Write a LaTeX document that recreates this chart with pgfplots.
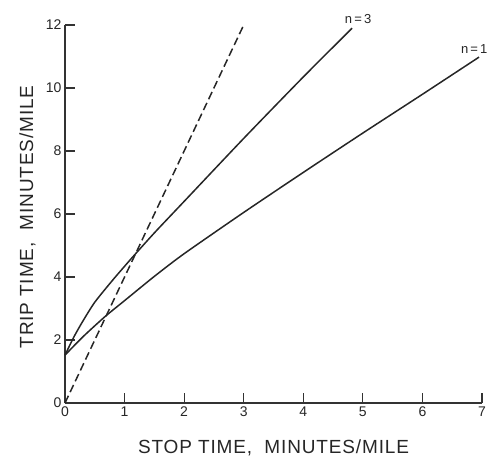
\documentclass[border=0pt]{standalone}
\usepackage{fontspec}
\setmainfont{Liberation Sans}
\newfontfamily\lblfont[LetterSpace=4.5]{Liberation Sans}
\usepackage{pgfplots}
\pgfplotsset{compat=1.18}

% trip time against stop time
\pgfplotstableread{
x     y
0     1.52
0.15  2.10
0.30  2.60
0.50  3.20
0.80  3.90
1.12  4.60
1.50  5.40
2.00  6.40
3.00  8.40
4.00  10.35
4.82  11.90
}\nthree
\pgfplotstableread{
x     y
0     1.52
0.30  2.10
0.67  2.74
1.00  3.25
1.50  4.02
2.00  4.74
3.00  6.05
4.00  7.32
5.00  8.57
6.00  9.80
6.95  10.98
}\none
\pgfplotstableread{
x  y
0  0
3  12
}\nstop

\begin{document}
\begin{tikzpicture}
\useasboundingbox (-65pt,-57pt) rectangle (427pt,403pt);
\begin{axis}[
  at={(0pt,0pt)}, anchor=south west,
  scale only axis, width=417pt, height=378pt,
  xmin=0, xmax=7, ymin=0, ymax=12,
  axis lines=left,
  axis line style={-, line width=1.5pt, black!80},
  xtick={0,1,...,7}, ytick={0,2,...,12},
  tick align=inside, major tick length=10pt,
  tick style={line width=1.2pt, black!80},
  tick label style={font=\fontsize{14}{14}\selectfont, text=black!85},
  /pgf/number format/assume math mode=true,
  xlabel={STOP TIME,\ \ MINUTES/MILE},
  ylabel={TRIP TIME,\ \ MINUTES/MILE},
  x label style={at={(axis description cs:0.5,-0.1349)}, anchor=base,
    font=\lblfont\fontsize{19}{19}\selectfont, text=black!85},
  y label style={at={(axis description cs:-0.0767,0.492)}, anchor=base,
    font=\lblfont\fontsize{19}{19}\selectfont, text=black!85},
  clip=false,
]
\addplot[black!85, line width=1.5pt, dash pattern=on 8pt off 4pt] table[x=x,y=y] {\nstop};
\addplot[black!85, line width=1.5pt, smooth, tension=0.4] table[x=x,y=y] {\nthree};
\addplot[black!85, line width=1.5pt, smooth, tension=0.4] table[x=x,y=y] {\none};
\node[anchor=base, font=\fontsize{13}{13}\selectfont, text=black!85] at (axis cs:4.92,12.06) {n\,=\,3};
\node[anchor=base east, font=\fontsize{13}{13}\selectfont, text=black!85] at (axis cs:7.15,11.11) {n\,=\,1};
\end{axis}
\end{tikzpicture}
\end{document}
